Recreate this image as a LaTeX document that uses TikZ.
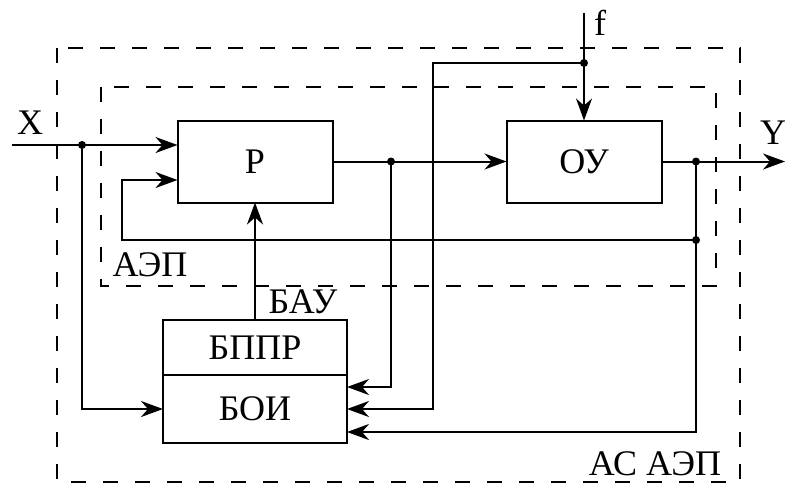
\documentclass[tikz,border=0pt]{standalone}
\usepackage{fontspec}
\setmainfont{Liberation Serif}
\usetikzlibrary{positioning, calc, arrows.meta}

\begin{document}
\begin{tikzpicture}[
        x=0.5pt, y=-0.5pt,
        line width=1pt,
        font=\fontsize{18}{20}\selectfont,
        % Style des blocs
        block/.style={
            draw,
            line width=1pt,
            minimum width=77.5pt,
            minimum height=41pt,
            inner sep=0pt,
            outer sep=0pt
        },
        % Style des zones en pointillés
        zone/.style={
            line width=1pt,
            dash pattern=on 7.5pt off 8.5pt
        },
        % Flèches et points de jonction
        arr/.style={-{Stealth[length=11pt, width=8pt, inset=3.5pt]}},
        dot/.style={circle, fill, inner sep=0pt, minimum size=4pt}
    ]
    \useasboundingbox (0,0) rectangle (785,484);

    % Zones AЭП et AC AЭП
    \draw[zone] (101,87) rectangle (716,286);
    \draw[zone] (57,48) rectangle (740,482);

    % Blocs
    \node[block] (P) at (255,161.5) {Р};
    \node[block] (OU) at (584,161.5) {ОУ};
    \node[block, minimum width=92pt, minimum height=27.5pt] (BPPR) at (255,347.5) {БППР};
    \node[block, minimum width=92pt, minimum height=34pt, below=0pt of BPPR] (BOI) {БОИ};

    % Points
    \coordinate (Xin) at (12,145);
    \coordinate (jX) at (82,145);
    \coordinate (j1) at (391,161.5);
    \coordinate (fin) at (584,13);
    \coordinate (jf) at (584,63);
    \coordinate (jY) at (696,161.5);
    \coordinate (jFb) at (696,240);
    \coordinate (Yout) at (785,161.5);
    \coordinate (Pin2) at ($(P.west)+(0,18.5)$);

    % Liaisons
    \draw[arr] (Xin) -- (Xin -| P.west);
    \draw[arr] (jX) |- (BOI.west);
    \draw[arr] (jFb) -| ([xshift=-28pt]Pin2) -- (Pin2);
    \draw[arr] (P.east) -- (OU.west);
    \draw[arr] (j1) |- ([yshift=11pt]BOI.east);
    \draw[arr] (fin) -- (OU.north);
    \draw[arr] (jf) -- (433,63) |- (BOI.east);
    \draw[arr] (OU.east) -- (Yout);
    \draw (jY) -- (jFb);
    \draw[arr] (jFb) |- ([yshift=-11.5pt]BOI.east);
    \draw[arr] (BPPR.north) -- (P.south);

    \foreach \j in {jX, j1, jf, jY, jFb}
        \node[dot] at (\j) {};

    % Etiquettes
    \node (lX) at (30,123) {X};
    \node (lf) at (600,23) {f};
    \node (lY) at (773,133) {Y};
    \node (lAEP) at (150,265) {АЭП};
    \node (lBAU) at (303,302) {БАУ};
    \node (lASAEP) at (655,464) {АС АЭП};

\end{tikzpicture}
\end{document}
